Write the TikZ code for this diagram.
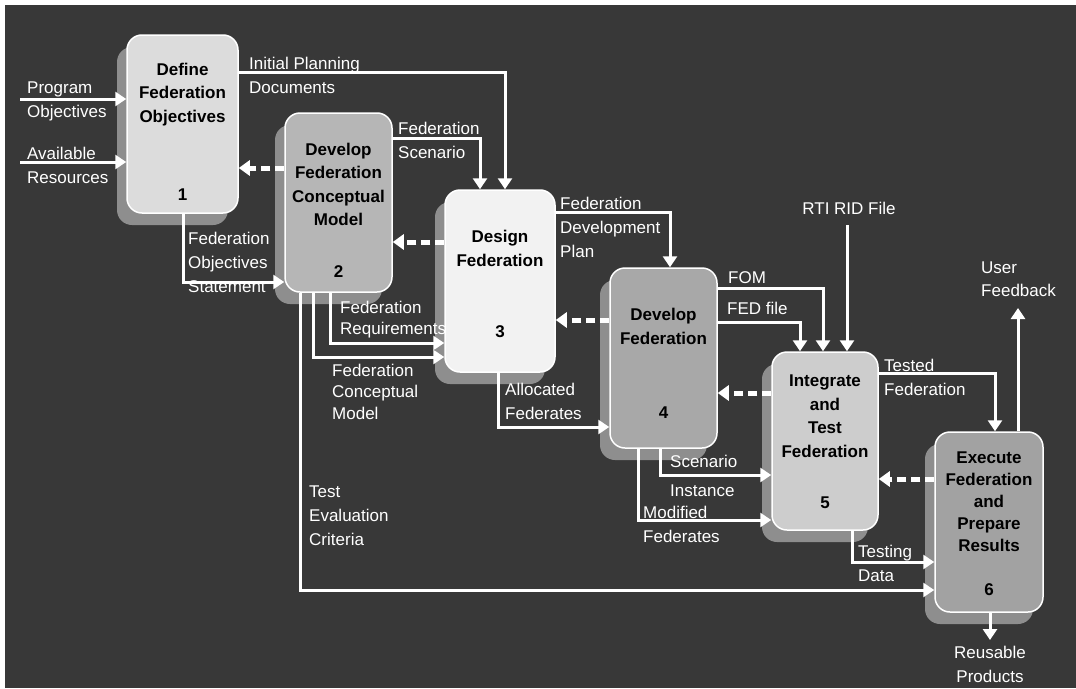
\documentclass[tikz,border=0pt]{standalone}
\usepackage{fontspec}
\setmainfont{Liberation Sans}
\usetikzlibrary{arrows.meta,shadows}
\definecolor{bg}{HTML}{383838}
\definecolor{shd}{HTML}{8E8E8E}
\definecolor{c1}{HTML}{DCDCDC}
\definecolor{c2}{HTML}{B6B6B6}
\definecolor{c3}{HTML}{F2F2F2}
\definecolor{c4}{HTML}{A8A8A8}
\definecolor{c5}{HTML}{CDCDCD}
\definecolor{c6}{HTML}{A2A2A2}
\begin{document}
\begin{tikzpicture}[x=1pt,y=-1pt,
  font=\fontsize{17}{24}\selectfont,
  box/.style={draw=white, line width=1.5pt, rounded corners=15pt, inner sep=0pt,
     drop shadow={shadow xshift=-10pt, shadow yshift=-12pt, fill=shd, opacity=1, shadow scale=1}},
  ttl/.style={font=\fontsize{17}{23.5}\selectfont\bfseries, text=black, align=center, inner sep=0pt},
  lbl/.style={text=white, align=left, anchor=north west, inner sep=0pt},
  flow/.style={draw=white, line width=3pt, -{Triangle[length=11pt,width=14pt]}},
  fb/.style={draw=white, line width=5pt, dash pattern=on 9pt off 5pt, -{Triangle[length=11pt,width=15pt]}}
]
\useasboundingbox (0,0) rectangle (1076,688);
\fill[white] (0,0) rectangle (1076,688);
\fill[bg] (5,5) rectangle (1076,688);

% boxes
\node[box, fill=c1, minimum width=111pt, minimum height=178pt] (b1) at (182.5,124) {};
\node[box, fill=c2, minimum width=107pt, minimum height=179pt] (b2) at (338.5,202.5) {};
\node[box, fill=c3, minimum width=110pt, minimum height=182pt] (b3) at (500,281) {};
\node[box, fill=c4, minimum width=107pt, minimum height=180pt] (b4) at (663.5,358) {};
\node[box, fill=c5, minimum width=106pt, minimum height=178pt] (b5) at (825,441) {};
\node[box, fill=c6, minimum width=108pt, minimum height=180pt] (b6) at (989,522) {};

% box titles and numbers
\node[ttl] (t1) at ([yshift=-60pt]b1.north) {Define\\Federation\\Objectives};
\node[ttl] (n1) at ([yshift=-160pt]b1.north) {1};
\node[ttl] (t2) at ([yshift=-72pt]b2.north) {Develop\\Federation\\Conceptual\\Model};
\node[ttl] (n2) at ([yshift=-159pt]b2.north) {2};
\node[ttl] (t3) at ([yshift=-59pt]b3.north) {Design\\Federation};
\node[ttl] (n3) at ([yshift=-142pt]b3.north) {3};
\node[ttl] (t4) at ([yshift=-59pt]b4.north) {Develop\\Federation};
\node[ttl] (n4) at ([yshift=-145pt]b4.north) {4};
\node[ttl] (t5) at ([yshift=-65pt]b5.north) {Integrate\\and\\Test\\Federation};
\node[ttl] (n5) at ([yshift=-151pt]b5.north) {5};
\node[ttl, font=\fontsize{17}{22}\selectfont\bfseries] (t6) at ([yshift=-70pt]b6.north) {Execute\\Federation\\and\\Prepare\\Results};
\node[ttl] (n6) at ([yshift=-158pt]b6.north) {6};

% free ends
\coordinate (in1) at (20,99);
\coordinate (in2) at (20,162);
\coordinate (rti) at (847,225);
\coordinate (uf) at (1018,308);
\coordinate (rp) at (990,640);

% flows
\draw[flow] (in1) -- (in1 -| b1.west);
\draw[flow] (in2) -- (in2 -| b1.west);
\draw[flow] (b1.east |- 0,72) -| (b3.north -| 505,0);
\draw[flow] (b2.east |- 0,138) -| (b3.north -| 480,0);
\draw[flow] (b1.south -| 183,0) |- (b2.west |- 0,282);
\draw[flow] (b2.south -| 330,0) |- (b3.west |- 0,343);
\draw[flow] (b2.south -| 313,0) |- (b3.west |- 0,357);
\draw[flow] (b2.south -| 300,0) |- (b6.west |- 0,590);
\draw[flow] (b3.east |- 0,212) -| (b4.north -| 670,0);
\draw[flow] (b3.south -| 498,0) |- (b4.west |- 0,427);
\draw[flow] (b4.east |- 0,288) -| (b5.north -| 823,0);
\draw[flow] (b4.east |- 0,322) -| (b5.north -| 800,0);
\draw[flow] (rti) -- (rti |- b5.north);
\draw[flow] (b5.east |- 0,373) -| (b6.north -| 995,0);
\draw[flow] (b6.north -| uf) -- (uf);
\draw[flow] (b4.south -| 660,0) |- (b5.west |- 0,475);
\draw[flow] (b4.south -| 638,0) |- (b5.west |- 0,520);
\draw[flow] (b5.south -| 852,0) |- (b6.west |- 0,562);
\draw[flow] (b6.south -| rp) -- (rp);

% feedback (dashed)
\draw[fb] (b2.west |- 0,168) -- (b1.east |- 0,168);
\draw[fb] (b3.west |- 0,242) -- (b2.east |- 0,242);
\draw[fb] (b4.west |- 0,320) -- (b3.east |- 0,320);
\draw[fb] (b5.west |- 0,393) -- (b4.east |- 0,393);
\draw[fb] (b6.west |- 0,479) -- (b5.east |- 0,479);

% labels
\node[lbl] (l1) at (27,81.5) {Program\\Objectives};
\node[lbl] (l2) at (27,146.5) {Available\\Resources};
\node[lbl] (l3) at (249,56.5) {Initial Planning\\Documents};
\node[lbl] (l4) at (398,121.5) {Federation\\Scenario};
\node[lbl] (l5) at (188,231.5) {Federation\\Objectives\\Statement};
\node[lbl] (l6) at (340,300.5) {Federation\\[-3pt]Requirements};
\node[lbl] (l7) at (332,363.5) {Federation\\[-2.5pt]Conceptual\\[-2.5pt]Model};
\node[lbl] (l8) at (309,485.5) {Test\\Evaluation\\Criteria};
\node[lbl] (l9) at (560,196.5) {Federation\\Development\\Plan};
\node[lbl] (l10) at (505,382.5) {Allocated\\Federates};
\node[lbl] (l11) at (728,271.5) {FOM};
\node[lbl] (l12) at (727,301.5) {FED file};
\node[lbl, anchor=center] (l13) at (849,208) {RTI RID File};
\node[lbl] (l14) at (884,358.5) {Tested\\Federation};
\node[lbl] (l15) at (981,261.5) {User\\[-1pt]Feedback};
\node[lbl] (l16) at (670,454.5) {Scenario\\[5pt]Instance};
\node[lbl] (l17) at (643,505.5) {Modified\\Federates};
\node[lbl] (l18) at (858,544.5) {Testing\\Data};
\node[lbl, anchor=north, align=center] (l19) at (990,645.5) {Reusable\\Products};
\end{tikzpicture}
\end{document}
